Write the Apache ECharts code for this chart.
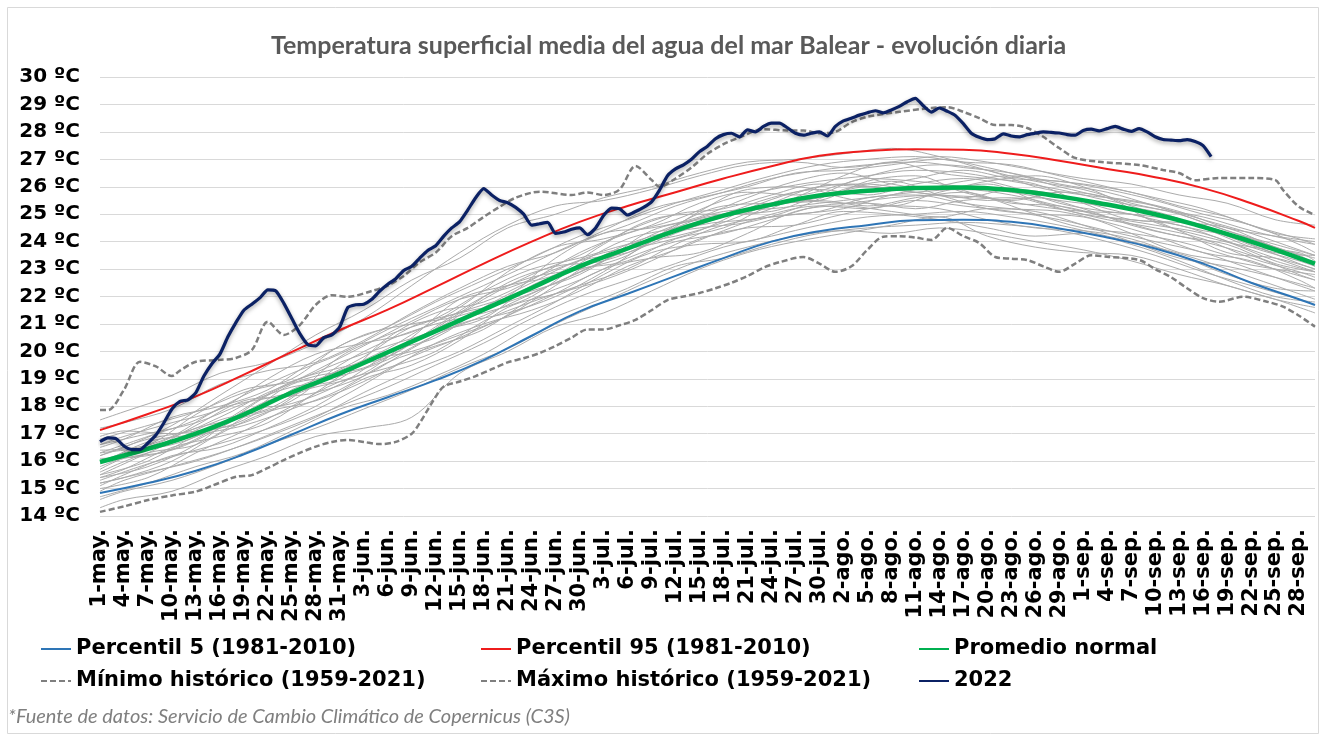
<!DOCTYPE html>
<html><head><meta charset="utf-8">
<script src="https://cdn.jsdelivr.net/npm/echarts@6/dist/echarts.min.js"></script>
<style>html,body{margin:0;padding:0;background:#fff}#c{width:1320px;height:736px}</style>
</head><body><div id="c"></div>
<script>
// ---- categories (1-may .. 30-sep) ----
const months = [['may',31],['jun',30],['jul',31],['ago',31],['sep',30]];
const categories = [];
months.forEach(([m,n]) => { for (let d = 1; d <= n; d++) categories.push(d + '-' + m + '.'); });

// ---- climatology curves, sampled every 6 days (day index from 1-may) ----
const sampleDays = [0,6,12,18,24,30,36,42,48,54,60,66,72,78,84,90,96,102,108,114,120,126,132,138,144,150,152];
const sampleDays2 = [0,3,9,15,21,27,33,39,45,51,57,63,69,75,81,87,93,99,105,111,117,123,129,135,141,147,152];
const p5   = [14.84,15.2,15.65,16.25,16.97,17.7,18.33,18.95,19.68,20.57,21.46,22.1,22.75,23.4,24.0,24.38,24.6,24.78,24.8,24.72,24.48,24.15,23.75,23.2,22.5,21.9,21.69];
const p95  = [17.13,17.72,18.36,19.15,19.98,20.78,21.52,22.35,23.2,24.0,24.72,25.3,25.8,26.3,26.75,27.13,27.3,27.37,27.35,27.2,26.95,26.65,26.35,25.95,25.4,24.75,24.5];
const mean = [15.97,16.45,17.0,17.7,18.5,19.2,19.97,20.74,21.52,22.31,23.1,23.75,24.4,24.95,25.35,25.68,25.85,25.95,25.97,25.88,25.65,25.35,25.0,24.54,24.0,23.4,23.2];

// ---- historical minimum (day, value) ----
const minDays = [0,3,6,9,12,14,17,19,21,23,25,27,29,31,33,35,37,39,40,42,43,45,47,49,51,53,55,57,59,61,63,65,67,69,71,73,75,77,79,81,83,85,88,90,92,94,96,98,100,102,104,106,108,110,112,114,116,118,120,122,124,126,130,132,134,136,138,140,143,146,148,150,152];
const minVals = [14.15,14.35,14.58,14.75,14.89,15.1,15.43,15.49,15.75,16.04,16.3,16.53,16.7,16.77,16.7,16.62,16.7,17.0,17.39,18.35,18.72,18.9,19.1,19.35,19.6,19.75,19.94,20.2,20.5,20.8,20.8,20.95,21.15,21.5,21.87,22.0,22.13,22.3,22.5,22.75,23.05,23.25,23.44,23.2,22.9,23.1,23.7,24.18,24.2,24.15,24.06,24.5,24.2,23.95,23.44,23.38,23.33,23.1,22.9,23.2,23.5,23.45,23.33,23.0,22.7,22.3,21.94,21.81,21.99,21.81,21.63,21.3,20.9];

// ---- historical maximum (day, value) ----
const maxDays = [0,1,3,5,7,9,10,12,15,17,19,21,23,25,27,29,31,34,36,38,40,42,44,46,48,50,52,55,59,61,63,65,67,69,70,72,74,76,78,80,83,86,88,90,92,94,96,100,104,106,108,110,112,114,116,118,120,122,125,130,133,135,137,140,144,147,148,150,152];
const maxVals = [17.86,17.86,18.6,19.62,19.45,19.1,19.3,19.62,19.69,19.76,20.05,21.08,20.6,20.96,21.7,22.05,21.99,22.2,22.4,22.75,23.25,23.6,24.2,24.5,24.9,25.27,25.6,25.82,25.7,25.79,25.7,25.9,26.76,26.25,26.0,26.3,26.7,27.2,27.55,27.8,28.1,28.05,28.05,27.95,28.0,28.35,28.55,28.73,28.87,28.9,28.73,28.5,28.25,28.25,28.14,27.82,27.41,27.05,26.91,26.79,26.61,26.5,26.24,26.32,26.32,26.25,25.88,25.27,24.97];

// ---- 2022 daily values (1-may .. 18-sep) ----
const y2022 = [16.71,16.85,16.82,16.55,16.42,16.42,16.66,16.95,17.4,17.9,
18.18,18.23,18.5,19.1,19.55,19.9,20.53,21.05,21.5,21.72,
21.95,22.24,22.2,21.75,21.2,20.65,20.25,20.2,20.5,20.6,
20.9,21.6,21.7,21.72,21.9,22.2,22.45,22.65,22.95,23.1,
23.4,23.68,23.85,24.2,24.5,24.73,25.15,25.6,25.93,25.7,
25.5,25.42,25.25,25.0,24.6,24.65,24.7,24.3,24.35,24.45,
24.5,24.25,24.5,24.95,25.22,25.2,24.97,25.1,25.25,25.45,
25.88,26.4,26.65,26.8,27.0,27.28,27.48,27.75,27.9,27.95,
27.82,28.07,28.0,28.2,28.32,28.32,28.15,27.95,27.88,27.95,
28.0,27.85,28.2,28.4,28.5,28.61,28.7,28.77,28.69,28.8,
28.93,29.1,29.22,28.95,28.72,28.87,28.75,28.6,28.3,27.95,
27.8,27.72,27.75,27.93,27.85,27.82,27.9,27.95,28.0,27.98,
27.96,27.9,27.88,28.05,28.1,28.04,28.12,28.2,28.1,28.02,
28.12,28.0,27.82,27.72,27.7,27.68,27.72,27.65,27.5,27.1];

// ---- individual years 1959-2021 (representative subset), set A on sampleDays ----
const yearsGrayA = [
[16.3,16.9,17.5,18.4,19.2,19.9,20.8,21.6,22.4,23.2,24.0,24.6,25.3,25.8,26.3,26.6,26.8,26.9,26.7,26.5,26.1,25.8,25.3,24.8,24.3,23.7,23.5],
[15.2,15.6,16.0,16.6,17.3,18.0,18.7,19.5,20.3,21.2,22.0,22.6,23.2,23.8,24.2,24.6,24.9,25.0,25.1,24.9,24.6,24.2,23.8,23.3,22.7,22.1,21.9],
[15.8,16.5,17.2,17.6,18.2,19.5,20.4,21.0,21.4,22.0,23.2,24.1,24.5,25.0,25.6,25.9,25.7,26.1,26.3,26.0,25.4,25.1,24.9,24.6,23.9,23.2,23.0],
[16.1,16.2,16.8,17.9,18.9,19.4,19.8,20.9,22.0,22.7,23.0,23.5,24.6,25.3,25.4,25.5,26.2,26.4,25.8,25.5,25.8,25.6,24.7,24.2,23.8,23.6,23.3],
[15.5,16.0,16.9,17.3,17.9,18.6,19.6,20.2,20.8,21.9,22.6,23.4,24.0,24.3,24.8,25.3,25.4,25.2,25.5,25.6,25.2,24.8,24.5,24.1,23.4,22.9,22.7],
[16.6,17.0,17.4,18.1,18.7,19.0,20.5,21.4,21.8,22.6,23.6,24.3,24.8,25.5,25.9,26.2,26.4,26.6,26.5,26.2,25.9,25.5,25.2,24.9,24.4,24.0,23.9],
[15.0,15.4,16.3,17.1,18.0,18.9,19.4,20.0,21.1,21.8,22.4,23.0,23.9,24.6,24.9,25.1,25.6,25.7,25.4,25.2,25.1,24.7,24.2,23.6,23.3,22.6,22.3],
[16.2,16.8,17.1,17.4,18.3,19.8,20.6,21.2,22.2,23.0,23.4,23.9,24.2,24.7,25.4,26.0,26.1,25.9,26.2,26.4,26.0,25.6,25.3,24.7,24.1,23.5,23.2],
[15.6,16.3,16.6,17.6,18.8,19.1,19.7,20.6,21.3,22.1,22.9,23.7,24.5,25.1,25.2,25.4,25.6,25.8,25.9,25.7,25.3,24.9,24.6,24.3,23.7,23.1,22.9],
[16.4,16.6,17.7,18.6,18.9,19.6,20.2,20.8,21.9,22.8,23.5,24.4,25.0,25.2,25.7,26.1,26.0,26.3,26.6,26.3,26.2,25.9,25.5,25.0,24.6,23.9,23.6],
[15.3,15.9,16.4,16.9,17.5,18.3,19.3,20.3,21.0,21.5,22.2,23.1,23.7,24.4,25.0,25.3,25.2,25.5,25.3,25.1,24.8,24.4,24.0,23.6,23.0,22.4,22.2],
[16.0,16.4,17.3,18.2,18.4,19.2,20.0,20.5,21.6,22.5,23.3,23.6,24.3,24.9,25.3,25.6,26.0,25.8,25.6,25.9,25.7,25.2,24.8,24.4,24.1,23.4,23.1],
[15.9,16.7,17.0,17.5,18.6,19.3,20.1,21.1,21.7,22.2,22.8,23.8,24.6,25.0,25.1,25.7,26.3,26.2,26.0,25.8,25.5,25.3,25.1,24.5,23.8,23.3,23.1],
[15.4,15.8,16.6,17.8,18.1,18.8,19.9,20.7,21.2,22.4,23.0,23.3,24.1,24.5,25.3,25.5,25.3,25.6,25.8,25.4,25.3,24.9,24.4,24.0,23.5,22.8,22.6],
[16.8,17.3,17.8,18.5,19.0,20.2,20.9,21.8,22.6,23.4,24.2,24.8,25.4,25.9,26.4,26.8,27.0,27.1,26.9,26.8,26.4,26.0,25.6,25.2,24.6,24.1,23.9],
[14.7,15.2,15.8,16.3,17.1,17.9,18.4,19.1,19.9,20.9,21.6,22.3,23.1,23.4,23.9,24.3,24.5,24.6,24.7,24.6,24.4,24.0,23.5,22.9,22.4,21.9,21.7]
];
// ---- set B on sampleDays2 ----
const yearsGrayB = [
[16.2,16.5,17.3,18.4,19.5,20.6,21.5,22.6,23.4,24.5,25.0,25.6,26.0,26.5,26.9,27.0,27.2,27.4,27.1,26.6,26.2,25.9,25.4,25.0,24.4,23.9,23.5],
[14.6,14.9,15.3,15.9,16.6,17.2,17.9,18.6,19.4,20.1,21.0,21.8,22.6,23.3,23.8,24.2,24.4,24.3,24.5,24.3,24.0,23.7,23.3,22.8,22.4,21.9,21.6],
[16.9,17.1,17.0,17.6,18.5,19.1,19.4,20.3,21.4,22.5,23.1,23.3,24.0,25.1,25.9,26.0,25.6,25.3,25.8,26.1,25.5,25.0,24.8,24.6,24.0,23.3,22.9],
[15.4,15.7,16.5,16.9,17.4,18.5,19.6,20.0,20.6,21.3,22.4,23.5,24.2,24.5,24.7,25.2,25.9,26.2,25.7,25.2,25.0,24.9,24.3,23.6,23.3,23.0,22.8],
[16.0,16.3,16.9,17.9,18.3,18.7,19.2,20.5,21.9,22.4,22.8,23.9,24.8,25.0,25.0,25.6,26.4,26.9,26.5,26.3,26.1,25.4,24.8,24.7,24.5,23.8,23.4],
[15.1,15.5,16.2,16.5,17.2,18.0,19.0,19.5,20.4,21.6,22.1,22.6,23.3,24.1,24.5,24.6,25.0,25.3,25.2,24.8,24.5,24.4,24.1,23.5,22.8,22.3,22.2],
[16.5,16.8,17.6,18.0,18.6,19.7,20.6,21.0,21.3,22.0,23.4,24.3,24.5,24.9,25.6,26.2,26.5,26.1,25.9,26.2,26.4,26.0,25.3,24.8,24.2,23.6,23.5],
[15.7,16.1,16.4,17.2,18.2,18.5,19.1,20.1,21.0,21.4,22.0,22.9,24.0,24.6,24.8,25.0,25.2,25.7,26.0,25.6,25.0,24.5,24.3,24.0,23.5,23.0,22.6],
[15.2,15.4,16.0,17.0,17.8,18.2,18.9,19.8,20.5,21.3,22.1,23.0,23.4,23.6,24.3,25.1,25.3,25.1,24.9,25.2,25.1,24.6,24.0,23.4,23.1,22.7,22.3],
[16.6,16.9,17.4,17.9,19.0,19.9,20.3,20.7,21.6,22.9,23.8,24.1,24.6,25.4,25.8,25.7,26.1,26.6,26.8,26.6,26.0,25.7,25.5,25.1,24.5,24.2,24.0],
[15.5,15.9,16.7,17.5,17.9,18.9,19.8,20.9,21.4,21.8,22.5,23.3,24.4,24.8,25.1,25.5,25.4,25.6,25.7,25.5,25.6,25.2,24.6,24.2,23.9,23.2,22.9],
[16.3,16.4,16.6,17.3,18.4,19.3,20.2,21.1,21.9,22.3,23.0,23.6,23.9,24.4,25.2,25.8,26.1,25.9,25.7,25.6,25.3,25.1,25.0,24.4,23.6,23.4,23.0],
[14.9,15.3,15.8,16.3,16.9,17.6,18.5,19.3,20.0,20.9,21.8,22.8,23.6,23.9,24.0,24.6,25.1,25.0,24.8,24.5,24.2,24.3,23.9,23.3,22.6,22.0,21.8],
[17.2,17.4,17.9,18.8,19.3,19.6,20.4,21.4,22.3,23.1,23.6,24.4,25.2,25.6,26.0,26.5,26.6,26.8,27.0,26.7,26.3,26.1,25.8,25.3,24.9,24.3,24.1],
[14.3,14.6,14.9,15.6,16.2,16.9,17.2,17.6,19.2,20.0,20.9,21.4,22.2,23.0,23.6,24.0,24.3,24.6,24.9,24.2,23.8,23.6,23.5,23.0,22.4,21.9,21.4],
[17.5,17.8,18.4,19.2,19.6,20.3,21.2,22.4,23.6,24.6,25.3,25.5,25.9,26.4,26.8,26.9,26.7,26.9,27.1,26.9,26.6,26.3,26.1,25.7,25.4,24.8,24.6]
];

const names = {
  p5: 'Percentil 5 (1981-2010)', p95: 'Percentil 95 (1981-2010)', mean: 'Promedio normal',
  min: 'Mínimo histórico (1959-2021)', max: 'Máximo histórico (1959-2021)', y22: '2022'
};

const pairs = (xs, vs) => vs.slice(0, xs.length).map((v, i) => [xs[i], v]);
const series = [];
const grayLine = (xs, vals, k) => ({
  type: 'line', name: 'año ' + k, data: pairs(xs, vals), symbol: 'none', smooth: 0.35,
  silent: true, lineStyle: { color: '#ababab', width: 1 }, itemStyle: { color: '#ababab' }, z: 1
});
yearsGrayA.forEach((vals, k) => series.push(grayLine(sampleDays, vals, 'a' + k)));
yearsGrayB.forEach((vals, k) => series.push(grayLine(sampleDays2, vals, 'b' + k)));
series.push({ type: 'line', name: names.min, data: pairs(minDays, minVals), symbol: 'none', smooth: 0.3,
  itemStyle: { color: '#7f7f7f' }, lineStyle: { color: '#7f7f7f', width: 2.5, type: [6, 3] }, z: 3 });
series.push({ type: 'line', name: names.max, data: pairs(maxDays, maxVals), symbol: 'none', smooth: 0.3,
  itemStyle: { color: '#7f7f7f' }, lineStyle: { color: '#7f7f7f', width: 2.5, type: [6, 3] }, z: 3 });
series.push({ type: 'line', name: names.p5, data: pairs(sampleDays, p5), symbol: 'none', smooth: true,
  itemStyle: { color: '#2e75b6' }, lineStyle: { color: '#2e75b6', width: 2 }, z: 4 });
series.push({ type: 'line', name: names.p95, data: pairs(sampleDays, p95), symbol: 'none', smooth: true,
  itemStyle: { color: '#ee1c1c' }, lineStyle: { color: '#ee1c1c', width: 2 }, z: 4 });
series.push({ type: 'line', name: names.mean, data: pairs(sampleDays, mean), symbol: 'none', smooth: true,
  itemStyle: { color: '#00b050' }, lineStyle: { color: '#00b050', width: 4.5 }, z: 5 });
series.push({ type: 'line', name: names.y22, data: y2022.map((v, i) => [i, v]), symbol: 'none', smooth: 0.2,
  itemStyle: { color: '#0b2164' },
  lineStyle: { color: '#0b2164', width: 3.2, shadowColor: 'rgba(0,0,0,0.35)', shadowBlur: 4, shadowOffsetY: 2 }, z: 6 });

const legendText = { fontFamily: 'DejaVu Sans', fontWeight: 'bold', fontSize: 21, color: '#000', lineHeight: 24 };
const mkLegend = (name, left, top) => ({
  data: [name], left: left, top: top, orient: 'horizontal', padding: 0, itemGap: 0,
  itemWidth: 30, itemHeight: 14, textStyle: legendText, selectedMode: false,
  itemStyle: { opacity: 0 }
});

const chart = echarts.init(document.getElementById('c'), null, { renderer: 'canvas' });
chart.setOption({
  animation: false,
  backgroundColor: '#ffffff',
  title: {
    text: 'Temperatura superficial media del agua del mar Balear - evolución diaria',
    left: 266, top: 28,
    textStyle: { fontFamily: 'Lato', fontWeight: 'bold', fontSize: 25, color: '#595959' }
  },
  grid: { left: 100, right: 5, top: 77, bottom: 220, containLabel: false, outerBoundsMode: 'none' },
  xAxis: {
    type: 'category', data: categories, boundaryGap: false,
    axisLine: { show: false }, axisTick: { show: false }, splitLine: { show: false },
    axisLabel: { interval: 2, rotate: 90, margin: 13, fontFamily: 'DejaVu Sans', fontWeight: 'bold', fontSize: 21, color: '#000' }
  },
  yAxis: {
    type: 'value', min: 14, max: 30, interval: 1,
    axisLine: { show: false }, axisTick: { show: false },
    splitLine: { lineStyle: { color: '#d9d9d9', width: 1 } },
    axisLabel: { margin: 20, formatter: v => v + ' ºC', fontFamily: 'DejaVu Sans', fontWeight: 'bold', fontSize: 20, color: '#000' }
  },
  legend: [
    mkLegend(names.p5, 40, 637), mkLegend(names.p95, 480, 637), mkLegend(names.mean, 918, 637),
    mkLegend(names.min, 40, 669), mkLegend(names.max, 480, 669), mkLegend(names.y22, 918, 669)
  ],
  graphic: [
    { type: 'rect', silent: true, z: -1, shape: { x: 7.5, y: 7.5, width: 1311, height: 726 },
      style: { fill: 'none', stroke: '#d9d9d9', lineWidth: 1 } },
    { type: 'text', left: 8, top: 707, silent: true,
      style: { text: '*Fuente de datos: Servicio de Cambio Climático de Copernicus (C3S)',
        fontFamily: 'Lato', fontStyle: 'italic', fontSize: 20, fill: '#7f7f7f' } }
  ],
  series: series
});
</script>
</body></html>
